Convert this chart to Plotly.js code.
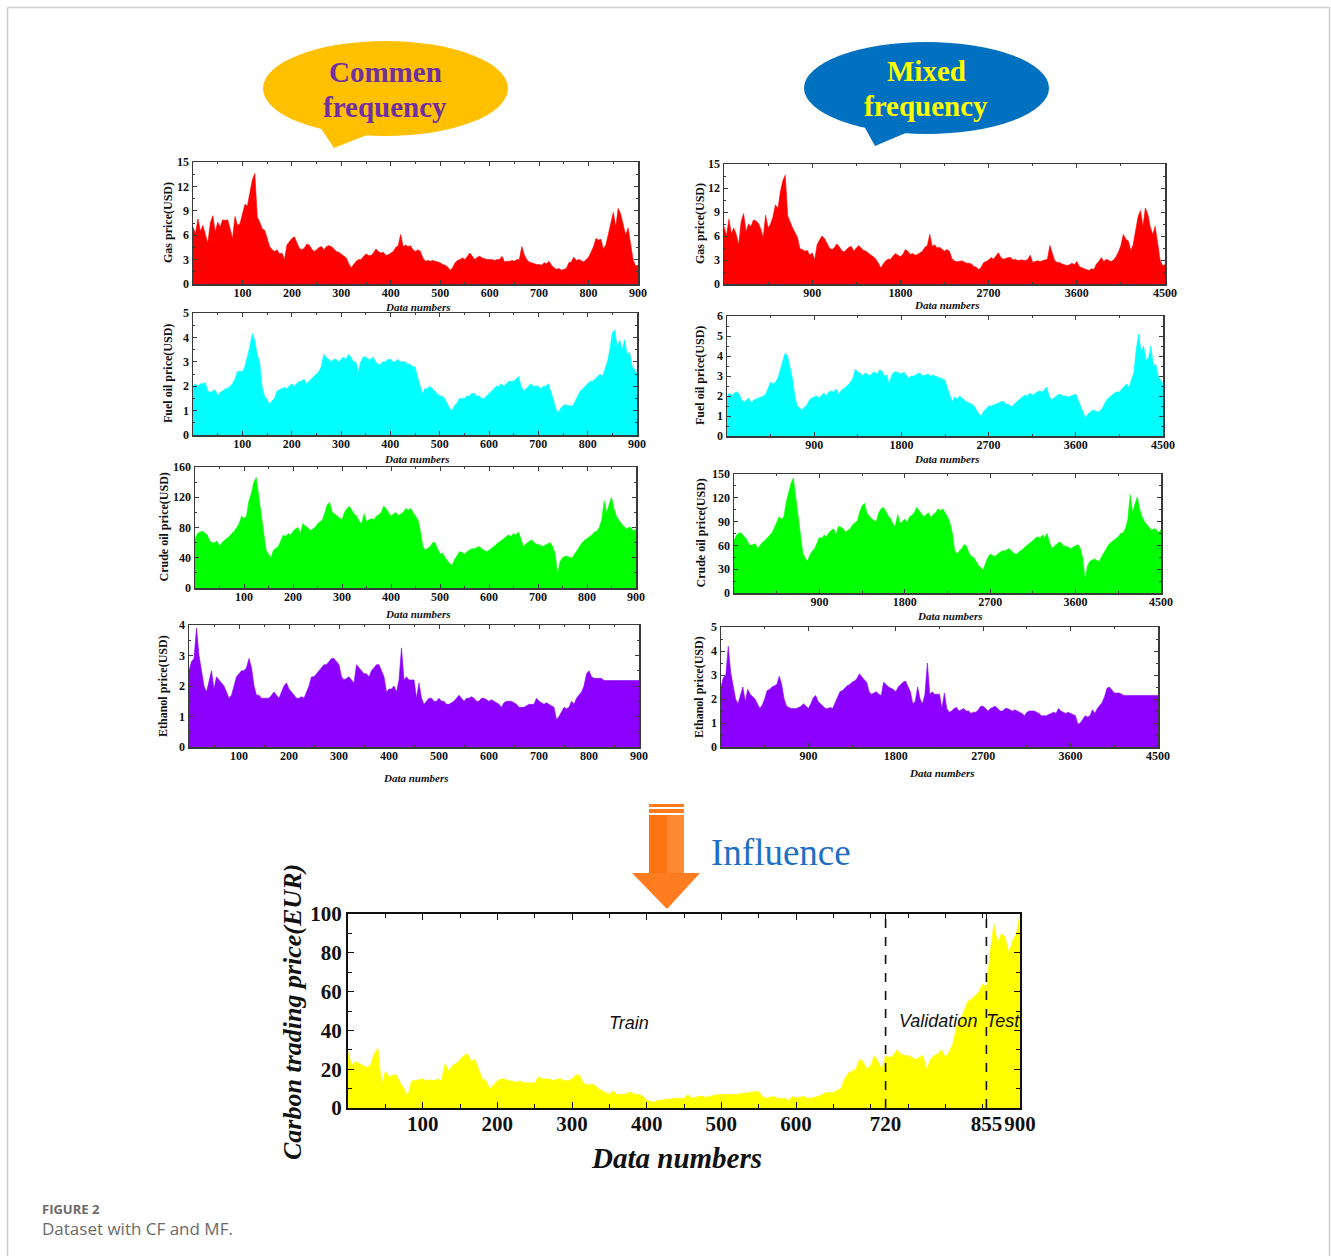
<!DOCTYPE html>
<html>
<head>
<meta charset="utf-8">
<script src="https://cdn.plot.ly/plotly-3.0.1.min.js"></script>
<style>html,body{margin:0;padding:0;background:#fff;}#chart{width:1331px;height:1256px;}</style>
</head>
<body>
<div id="chart"></div>
<script>
// ---------------- DATA ----------------
// Common frequency (CF): one value every 5 data numbers, 0..900
const cfTicks = [100, 200, 300, 400, 500, 600, 700, 800, 900];
const mfTicks = [900, 1800, 2700, 3600, 4500];
const carbonTicks = [100, 200, 300, 400, 500, 600, 720, 855, 900];
const splitPoints = [720, 855];
const segmentLabels = ["Train", "Validation", "Test"];
const segmentLabelX = [377, 790, 877];
const segmentLabelY = [44, 45, 45];

const gasCF = [7.0,6.2,8.0,6.5,7.2,6.0,5.0,7.5,8.4,6.4,
7.6,7.0,7.9,7.8,7.9,6.8,5.6,8.3,7.2,7.4,
8.6,9.8,9.6,11.2,12.8,13.6,8.2,7.6,6.8,6.6,
5.6,4.6,4.2,4.0,4.2,3.7,3.8,3.0,4.8,5.2,
5.6,5.8,5.2,4.4,4.2,4.4,4.9,4.8,4.3,4.0,
4.2,4.5,4.6,4.2,4.6,4.7,4.6,4.3,4.0,3.9,
3.7,3.5,3.2,2.5,2.0,2.4,2.8,3.0,3.0,3.4,
3.7,3.5,3.5,3.8,4.3,4.0,3.8,3.9,3.5,3.6,
3.8,4.0,4.5,4.7,6.1,4.6,4.8,4.6,4.7,4.2,
4.0,4.2,4.0,3.2,2.8,2.9,2.8,2.9,2.8,2.7,
2.6,2.4,2.3,2.1,1.7,2.0,2.6,2.9,3.0,3.2,
3.0,3.4,3.8,3.4,3.0,3.3,3.4,3.2,3.1,3.0,
3.0,3.0,2.9,3.0,3.0,3.4,2.7,2.8,2.8,2.9,
2.8,3.0,3.0,4.6,3.6,3.0,2.7,2.6,2.5,2.4,
2.4,2.3,2.6,2.5,2.8,2.3,2.0,1.8,1.9,1.7,
1.8,1.9,2.6,2.7,3.3,2.9,3.0,2.9,2.7,3.0,
3.3,3.9,4.6,5.6,5.4,5.5,4.3,4.8,6.2,7.8,
8.8,7.0,9.3,8.6,7.2,6.0,6.9,5.2,3.0,2.2,
2.3];

const fuelCF = [2.0,2.1,2.0,2.1,2.1,2.15,1.8,1.75,1.8,1.85,
1.6,1.75,1.8,1.9,1.9,2.0,2.1,2.3,2.6,2.6,
2.6,2.8,3.2,3.6,4.15,3.9,3.3,3.0,2.0,1.6,
1.45,1.25,1.4,1.5,1.8,1.85,1.9,1.95,1.9,2.0,
2.1,2.0,2.1,2.2,2.2,2.3,2.1,2.2,2.3,2.4,
2.5,2.6,2.8,3.3,3.2,3.1,3.0,3.1,3.1,3.0,
3.1,3.2,3.1,3.3,3.2,3.0,3.0,2.6,3.0,3.2,
3.2,3.1,3.1,3.2,3.0,2.9,2.9,3.0,3.0,3.1,
3.1,3.0,3.0,3.1,3.0,3.0,3.0,2.9,2.9,2.8,
2.8,2.4,2.0,1.7,1.9,1.9,2.0,1.9,1.8,1.7,
1.6,1.6,1.5,1.3,1.1,1.0,1.2,1.3,1.5,1.5,
1.5,1.6,1.6,1.7,1.7,1.6,1.6,1.5,1.5,1.6,
1.7,1.8,1.9,2.0,2.0,2.1,2.0,2.1,2.2,2.2,
2.2,2.3,2.4,2.0,1.8,1.9,2.0,2.1,2.0,2.0,
2.0,1.9,2.0,2.0,2.1,1.8,1.5,1.1,0.9,1.1,
1.2,1.25,1.2,1.2,1.2,1.4,1.6,1.8,1.9,2.0,
2.1,2.2,2.2,2.3,2.4,2.5,2.4,2.7,3.0,3.5,
4.2,4.3,3.6,3.9,3.5,3.9,3.3,3.4,2.8,2.7,
2.5];

const crudeCF = [65,72,74,75,73,70,62,60,60,62,
55,60,63,65,68,72,75,80,85,95,
92,95,115,125,140,146,120,95,70,50,
45,40,50,52,55,62,70,68,72,70,
75,78,80,72,85,82,80,76,78,80,
85,88,90,100,110,113,100,98,95,92,
90,100,105,108,102,98,95,88,85,98,
88,90,92,90,95,97,100,108,105,100,
95,98,100,96,98,100,105,103,105,100,
95,90,75,55,50,52,55,60,60,52,
45,46,40,36,32,30,38,44,48,47,
45,48,50,52,52,54,55,52,50,48,
50,52,55,58,60,62,65,68,70,68,
72,70,74,65,55,58,60,63,62,58,
58,56,55,57,58,60,55,45,18,35,
40,42,42,40,40,45,50,55,60,63,
65,68,70,74,75,80,90,115,100,110,
120,105,95,90,85,82,78,80,80,75,
78];

const ethanolCF = [2.5,2.8,2.9,3.9,3.0,2.5,2.0,1.8,2.2,2.5,
1.9,2.3,2.2,2.1,2.0,1.8,1.6,1.7,2.0,2.3,
2.4,2.5,2.5,2.6,2.9,2.6,2.0,1.7,1.7,1.6,
1.6,1.6,1.6,1.7,1.8,1.7,1.6,1.8,2.0,2.1,
1.9,1.8,1.7,1.6,1.6,1.65,1.6,1.8,2.0,2.3,
2.3,2.4,2.5,2.6,2.7,2.7,2.8,2.9,2.9,2.8,
2.7,2.3,2.2,2.25,2.3,2.2,2.1,2.7,2.6,2.5,
2.4,2.4,2.3,2.5,2.6,2.7,2.7,2.5,2.3,1.8,
1.9,1.9,2.0,1.8,2.2,3.25,2.2,2.3,2.2,2.2,
2.2,1.6,2.1,1.6,1.4,1.5,1.6,1.6,1.5,1.5,
1.6,1.5,1.5,1.4,1.4,1.45,1.5,1.6,1.7,1.6,
1.5,1.6,1.6,1.65,1.6,1.5,1.5,1.6,1.6,1.55,
1.5,1.55,1.5,1.45,1.4,1.3,1.45,1.5,1.5,1.5,
1.45,1.4,1.3,1.3,1.3,1.35,1.4,1.4,1.4,1.6,
1.5,1.45,1.4,1.45,1.4,1.35,1.3,0.9,1.0,1.15,
1.3,1.25,1.3,1.5,1.4,1.6,1.7,1.8,2.0,2.4,
2.5,2.3,2.25,2.25,2.25,2.25,2.18,2.18,2.18,2.18,
2.18,2.18,2.18,2.18,2.18,2.18,2.18,2.18,2.18,2.18,
2.18];

// Mixed frequency (MF): one value every 25 data numbers, 0..4500
const gasMF = [7.2,6.0,8.1,6.3,7.0,6.2,4.9,7.8,8.8,6.5,
7.5,7.2,8.0,7.9,7.6,6.9,5.8,8.6,7.0,7.5,
8.4,9.9,9.4,11.5,12.9,13.6,8.5,7.7,7.0,6.4,
5.8,4.4,4.3,4.1,4.2,3.6,3.9,3.0,4.9,5.5,
6.0,5.7,5.1,4.5,4.3,4.5,5.0,4.7,4.2,4.0,
4.3,4.6,4.7,4.1,4.5,4.8,4.5,4.2,4.1,3.8,
3.6,3.4,3.1,2.6,2.0,2.5,2.9,3.1,3.1,3.5,
3.8,3.6,3.4,3.7,4.3,4.1,3.7,3.8,3.6,3.7,
3.9,4.1,4.6,4.8,6.2,4.7,4.9,4.5,4.6,4.4,
4.1,4.3,4.1,3.2,2.9,2.8,2.8,2.9,2.7,2.6,
2.6,2.5,2.2,2.1,1.8,2.1,2.7,2.8,3.0,3.3,
3.1,3.5,3.9,3.3,3.1,3.2,3.3,3.3,3.0,3.1,
2.9,3.0,3.0,2.9,3.1,3.6,2.7,2.8,2.9,2.8,
2.9,3.0,3.1,4.8,3.7,2.9,2.7,2.7,2.5,2.4,
2.3,2.4,2.6,2.4,2.8,2.2,2.0,1.9,1.8,1.7,
1.9,1.8,2.5,2.8,3.3,2.8,3.1,2.9,2.8,3.0,
3.4,4.0,4.8,6.2,5.6,5.4,4.2,4.9,6.5,8.4,
9.2,7.2,9.5,8.7,7.1,6.2,7.2,5.0,3.0,2.3,
2.4];

const fuelMF = [2.0,2.15,2.0,2.15,2.2,2.1,1.8,1.7,1.8,1.9,
1.65,1.8,1.85,1.9,1.95,2.0,2.1,2.4,2.7,2.6,
2.7,2.9,3.3,3.7,4.15,4.0,3.4,2.9,2.0,1.5,
1.4,1.3,1.45,1.55,1.8,1.9,1.95,2.0,1.9,2.05,
2.15,2.0,2.2,2.25,2.2,2.35,2.1,2.25,2.35,2.45,
2.55,2.7,2.9,3.35,3.2,3.15,3.0,3.15,3.1,3.0,
3.15,3.2,3.1,3.3,3.25,3.0,3.05,2.6,3.05,3.2,
3.2,3.15,3.1,3.2,3.05,2.9,3.0,3.0,3.05,3.15,
3.1,3.0,3.05,3.1,3.0,3.05,3.0,2.95,2.9,2.85,
2.8,2.4,2.0,1.7,1.95,1.85,2.0,1.9,1.8,1.7,
1.65,1.6,1.5,1.3,1.1,1.0,1.25,1.35,1.5,1.5,
1.55,1.6,1.65,1.7,1.75,1.6,1.6,1.5,1.5,1.65,
1.75,1.85,1.95,2.05,2.0,2.15,2.05,2.1,2.2,2.25,
2.2,2.3,2.45,2.0,1.8,1.9,2.0,2.1,2.05,2.0,
2.0,1.95,2.0,2.05,2.1,1.8,1.5,1.1,0.9,1.1,
1.2,1.3,1.25,1.2,1.25,1.4,1.65,1.85,1.95,2.05,
2.15,2.2,2.2,2.35,2.5,2.6,2.45,2.8,3.2,4.4,
5.1,4.2,4.5,3.8,3.9,4.5,3.5,3.6,3.0,2.8,
2.6];

const crudeMF = [66,73,75,76,72,69,63,60,61,62,
56,60,64,66,69,73,76,82,88,96,
93,96,114,127,138,145,122,96,72,50,
44,40,48,53,56,63,70,69,73,71,
76,79,81,73,84,83,81,77,79,81,
86,89,91,102,110,113,101,97,94,91,
90,101,106,108,103,97,94,87,84,99,
88,91,93,89,96,98,101,108,104,99,
96,99,101,95,99,101,106,104,106,101,
96,89,76,54,49,53,56,61,59,51,
46,45,40,35,32,29,37,45,49,47,
46,49,51,53,53,55,56,53,50,49,
51,53,56,59,61,63,66,69,71,69,
73,70,75,64,56,59,61,64,63,59,
59,57,56,58,59,61,56,44,17,34,
40,42,43,41,40,46,51,56,61,64,
66,69,71,75,76,81,92,124,101,112,
121,106,96,90,86,83,79,81,80,76,
80];

const ethanolMF = [2.5,2.9,3.0,4.2,3.1,2.6,2.0,1.8,2.2,2.5,
1.9,2.4,2.2,2.1,2.0,1.8,1.6,1.75,2.0,2.35,
2.4,2.5,2.55,2.6,2.95,2.6,2.0,1.7,1.65,1.6,
1.6,1.6,1.65,1.7,1.8,1.7,1.6,1.8,2.05,2.15,
1.9,1.8,1.7,1.6,1.6,1.65,1.6,1.85,2.05,2.3,
2.35,2.45,2.55,2.6,2.7,2.75,2.85,3.05,2.9,2.8,
2.7,2.3,2.2,2.25,2.3,2.2,2.15,2.7,2.6,2.5,
2.45,2.4,2.3,2.5,2.6,2.7,2.75,2.5,2.3,1.8,
1.9,2.5,2.0,1.8,2.2,3.5,2.2,2.3,2.2,2.2,
2.2,1.6,2.25,1.6,1.45,1.5,1.6,1.65,1.5,1.55,
1.6,1.5,1.5,1.4,1.45,1.45,1.55,1.7,1.7,1.6,
1.5,1.6,1.65,1.7,1.6,1.5,1.5,1.6,1.6,1.55,
1.5,1.55,1.5,1.45,1.4,1.3,1.45,1.5,1.5,1.5,
1.45,1.4,1.3,1.3,1.3,1.35,1.4,1.45,1.4,1.6,
1.5,1.45,1.4,1.45,1.4,1.35,1.3,0.95,1.0,1.15,
1.3,1.25,1.3,1.55,1.4,1.6,1.75,1.85,2.1,2.45,
2.5,2.35,2.25,2.25,2.25,2.2,2.15,2.15,2.15,2.15,
2.15,2.15,2.15,2.15,2.15,2.15,2.15,2.15,2.15,2.15,
2.15];

// Carbon trading price (EUR), one value every 5 data numbers, 0..900
const carbon = [29,22,24,23,22,21,22,28,31,12,
19,16,17,17,13,10,6,14,14,14.5,
15,14,14.5,14,15,14,23,19,22,23,
25,27,28,24,25,20,15,14,10,12,
14,15,15,14,14,13,14,13,13,13,
13,16,15,15,15,14,15,15,14,14,
15,17,17,13,12,12,12,10,9,8,
7,9,7,7,7,8,8,7,7,6,
4,3.5,3,4,4,4.5,4.5,5,5,5,
5,7,5,5.5,6,6,5.5,6,6.5,7,
7,7,7,7,7,7.5,7.5,8,8,8.5,
8.5,6,5,5.5,6,5,5,5,4,6,
5,5.5,6,5,5,5.5,6,7,8,8,
8,9,10,15,18,19,20,25,24,20,
22,27,24,20,27,26,27,30,28,27,
27,26,25,26,27,20,25,27,28,30,
26,29,33,42,45,50,55,56,58,60,
64,62,80,95,85,90,88,80,86,90,
100];

// ---------------- LAYOUT HELPERS ----------------
const W = 1331, H = 1256;
const px = v => v / W;
const py = v => 1 - v / H;
const SERIF = "Liberation Serif, Times New Roman, serif";

const panels = [
  {y: gasCF, step: 5, color: "#FF0000", xr: [0, 900], xt: cfTicks, xm: 50, yr: [0, 15], yd: 3, ym: 1.5, box: [193, 638, 162, 284], title: "Gas price(USD)", tx: 168, dnY: 306},
  {y: fuelCF, step: 5, color: "#00FFFF", xr: [0, 900], xt: cfTicks, xm: 50, yr: [0, 5], yd: 1, ym: 0.5, box: [193, 637, 313, 435], title: "Fuel oil price(USD)", tx: 168, dnY: 458},
  {y: crudeCF, step: 5, color: "#00FF00", xr: [0, 900], xt: cfTicks, xm: 50, yr: [0, 160], yd: 40, ym: 20, box: [195, 636, 467, 588], title: "Crude oil price(USD)", tx: 163, dnY: 613},
  {y: ethanolCF, step: 5, color: "#8C00FF", xr: [0, 900], xt: cfTicks, xm: 50, yr: [0, 4], yd: 1, ym: 0.5, box: [189, 639, 625, 747], title: "Ethanol price(USD)", tx: 163, dnY: 777},
  {y: gasMF, step: 25, color: "#FF0000", xr: [0, 4500], xt: mfTicks, xm: 450, yr: [0, 15], yd: 3, ym: 1.5, box: [724, 1165, 164, 284], title: "Gas price(USD)", tx: 700, dnY: 304},
  {y: fuelMF, step: 25, color: "#00FFFF", xr: [0, 4500], xt: mfTicks, xm: 450, yr: [0, 6], yd: 1, ym: 0.5, box: [727, 1163, 316, 436], title: "Fuel oil price(USD)", tx: 700, dnY: 458},
  {y: crudeMF, step: 25, color: "#00FF00", xr: [0, 4500], xt: mfTicks, xm: 450, yr: [0, 150], yd: 30, ym: 15, box: [734, 1161, 474, 593], title: "Crude oil price(USD)", tx: 700, dnY: 615},
  {y: ethanolMF, step: 25, color: "#8C00FF", xr: [0, 4500], xt: mfTicks, xm: 450, yr: [0, 5], yd: 1, ym: 0.5, box: [721, 1158, 627, 747], title: "Ethanol price(USD)", tx: 699, dnY: 772}
];

const traces = [];
const layout = {
  width: W, height: H,
  margin: {l: 0, r: 0, t: 0, b: 0},
  paper_bgcolor: "#fff", plot_bgcolor: "#fff",
  showlegend: false,
  font: {family: SERIF},
  shapes: [], annotations: []
};

function axisBase(lineW, lineC) {
  return {
    showline: true, mirror: "ticks", linecolor: lineC, linewidth: lineW,
    ticks: "inside", ticklen: 4, tickwidth: 1, tickcolor: lineC,
    showgrid: false, zeroline: false, fixedrange: true, tickangle: 0
  };
}

panels.forEach((p, i) => {
  const n = i + 1;
  const xs = p.y.map((_, k) => k * p.step);
  traces.push({
    type: "scatter", mode: "lines", x: xs, y: p.y,
    xaxis: "x" + n, yaxis: "y" + n,
    fill: "tozeroy", fillcolor: p.color,
    line: {color: p.color, width: 0.6}, hoverinfo: "skip"
  });
  const [l, r, t, b] = p.box;
  layout["xaxis" + n] = Object.assign(axisBase(1.5, "#3a3a3a"), {
    domain: [px(l), px(r)], anchor: "y" + n, range: p.xr,
    tickmode: "array", tickvals: p.xt, ticklabelstandoff: -3,
    minor: {ticks: "inside", ticklen: 2, tickcolor: "#3a3a3a", tick0: 0, dtick: p.xm},
    tickfont: {family: SERIF, size: 12, weight: "bold", color: "#111"}
  });
  layout["yaxis" + n] = Object.assign(axisBase(1.5, "#3a3a3a"), {
    domain: [py(b), py(t)], anchor: "x" + n, range: p.yr,
    tick0: 0, dtick: p.yd,
    minor: {ticks: "inside", ticklen: 2, tickcolor: "#3a3a3a", tick0: 0, dtick: p.ym},
    tickfont: {family: SERIF, size: 12, weight: "bold", color: "#111"}
  });
  layout.annotations.push({
    xref: "paper", yref: "paper", x: px(p.tx), y: py((t + b) / 2),
    text: p.title, textangle: -90, showarrow: false,
    font: {family: SERIF, size: 12, weight: "bold", color: "#111"},
    xanchor: "center", yanchor: "middle"
  });
  layout.annotations.push({
    xref: "paper", yref: "paper", x: px((l + r) / 2 + 2), y: py(p.dnY + 1),
    text: "Data numbers", showarrow: false,
    font: {family: SERIF, size: 11, weight: "bold", style: "italic", color: "#111"},
    xanchor: "center", yanchor: "middle"
  });
});

// Bottom carbon plot
const cx = carbon.map((_, k) => k * 5);
traces.push({
  type: "scatter", mode: "lines", x: cx, y: carbon, xaxis: "x9", yaxis: "y9",
  fill: "tozeroy", fillcolor: "#FFFF00", line: {color: "#FFFF00", width: 0.6}, hoverinfo: "skip"
});
layout.xaxis9 = Object.assign(axisBase(2, "#111"), {
  domain: [px(348), px(1020)], anchor: "y9", range: [0, 900],
  tickmode: "array", tickvals: carbonTicks, ticklen: 6, ticklabelstandoff: -4,
  minor: {ticks: "inside", ticklen: 4, tickcolor: "#111", tick0: 0, dtick: 50},
  tickfont: {family: SERIF, size: 21, weight: "bold", color: "#111"}
});
layout.yaxis9 = Object.assign(axisBase(2, "#111"), {
  domain: [py(1108), py(914)], anchor: "x9", range: [0, 100],
  tick0: 0, dtick: 20, ticklen: 6,
  minor: {ticks: "inside", ticklen: 4, tickcolor: "#111", tick0: 0, dtick: 10},
  tickfont: {family: SERIF, size: 21, weight: "bold", color: "#111"}
});
splitPoints.forEach(v => layout.shapes.push({
  type: "line", xref: "x9", yref: "y9 domain", x0: v, x1: v, y0: 0, y1: 1,
  line: {color: "#111", width: 1.6, dash: "dash"}
}));
segmentLabels.forEach((s, k) => layout.annotations.push({
  xref: "x9", yref: "y9", x: segmentLabelX[k], y: segmentLabelY[k], text: s, showarrow: false,
  xanchor: "center", yanchor: "middle",
  font: {family: "Liberation Sans Narrow, Liberation Sans, sans-serif", size: 18, style: "italic", color: "#111"}
}));
layout.annotations.push({
  xref: "paper", yref: "paper", x: px(292), y: py(1012), text: "Carbon trading price(EUR)",
  textangle: -90, showarrow: false, xanchor: "center", yanchor: "middle",
  font: {family: SERIF, size: 26, weight: "bold", style: "italic", color: "#111"}
});
layout.annotations.push({
  xref: "paper", yref: "paper", x: px(676), y: py(1158), text: "Data numbers", showarrow: false,
  xanchor: "center", yanchor: "middle",
  font: {family: SERIF, size: 29, weight: "bold", style: "italic", color: "#111"}
});

// Speech bubbles
layout.shapes.push({type: "path", xref: "paper", yref: "paper",
  path: `M ${px(320)},${py(127)} L ${px(334)},${py(148)} L ${px(372)},${py(133)} Z`,
  fillcolor: "#FFC000", line: {width: 0}});
layout.shapes.push({type: "circle", xref: "paper", yref: "paper",
  x0: px(263), x1: px(508), y0: py(136), y1: py(41), fillcolor: "#FFC000", line: {width: 0}});
layout.shapes.push({type: "path", xref: "paper", yref: "paper",
  path: `M ${px(864)},${py(126)} L ${px(875)},${py(146)} L ${px(908)},${py(132)} Z`,
  fillcolor: "#0070C0", line: {width: 0}});
layout.shapes.push({type: "circle", xref: "paper", yref: "paper",
  x0: px(804), x1: px(1049), y0: py(134), y1: py(42), fillcolor: "#0070C0", line: {width: 0}});
[["Commen", 385, 72, "#7030A0"], ["frequency", 385, 107, "#7030A0"],
 ["Mixed", 926, 71, "#FFFF00"], ["frequency", 926, 106, "#FFFF00"]].forEach(a => layout.annotations.push({
  xref: "paper", yref: "paper", x: px(a[1]), y: py(a[2]), text: a[0], showarrow: false,
  font: {family: SERIF, size: 29, weight: "bold", color: a[3]}, xanchor: "center", yanchor: "middle"
}));

// Influence arrow
layout.shapes.push({type: "rect", xref: "paper", yref: "paper", x0: px(649), x1: px(684), y0: py(807), y1: py(804), fillcolor: "#FF7A1A", line: {width: 0}});
layout.shapes.push({type: "rect", xref: "paper", yref: "paper", x0: px(649), x1: px(684), y0: py(813), y1: py(809), fillcolor: "#FF7A1A", line: {width: 0}});
layout.shapes.push({type: "rect", xref: "paper", yref: "paper", x0: px(649), x1: px(667), y0: py(874), y1: py(815), fillcolor: "#FF7412", line: {width: 0}});
layout.shapes.push({type: "rect", xref: "paper", yref: "paper", x0: px(667), x1: px(684), y0: py(874), y1: py(815), fillcolor: "#FF8A33", line: {width: 0}});
layout.shapes.push({type: "path", xref: "paper", yref: "paper",
  path: `M ${px(632)},${py(873)} L ${px(700)},${py(873)} L ${px(667)},${py(909)} Z`,
  fillcolor: "#FF7C20", line: {width: 0}});
layout.annotations.push({xref: "paper", yref: "paper", x: px(709), y: py(852), text: "Influence",
  showarrow: false, xanchor: "left", yanchor: "middle",
  font: {family: SERIF, size: 37, color: "#1F6FC4"}});

// Page frame and caption
layout.shapes.push({type: "line", xref: "paper", yref: "paper", x0: px(7.5), x1: px(1329.5), y0: py(7.5), y1: py(7.5), line: {color: "#cfcfcf", width: 1.5}});
layout.shapes.push({type: "line", xref: "paper", yref: "paper", x0: px(7.5), x1: px(7.5), y0: py(7.5), y1: 0, line: {color: "#cfcfcf", width: 1.5}});
layout.shapes.push({type: "line", xref: "paper", yref: "paper", x0: px(1329.5), x1: px(1329.5), y0: py(7.5), y1: 0, line: {color: "#cfcfcf", width: 1.5}});
layout.annotations.push({xref: "paper", yref: "paper", x: px(40), y: py(1209), text: "FIGURE 2",
  showarrow: false, xanchor: "left", yanchor: "middle",
  font: {family: "Open Sans, Noto Sans, sans-serif", size: 13, weight: "bold", color: "#6a6a6a"}});
layout.annotations.push({xref: "paper", yref: "paper", x: px(40), y: py(1228), text: "Dataset with CF and MF.",
  showarrow: false, xanchor: "left", yanchor: "middle",
  font: {family: "Open Sans, Noto Sans, sans-serif", size: 17, color: "#6a6a6a"}});

Plotly.newPlot("chart", traces, layout, {staticPlot: true, displayModeBar: false});
</script>
</body>
</html>
